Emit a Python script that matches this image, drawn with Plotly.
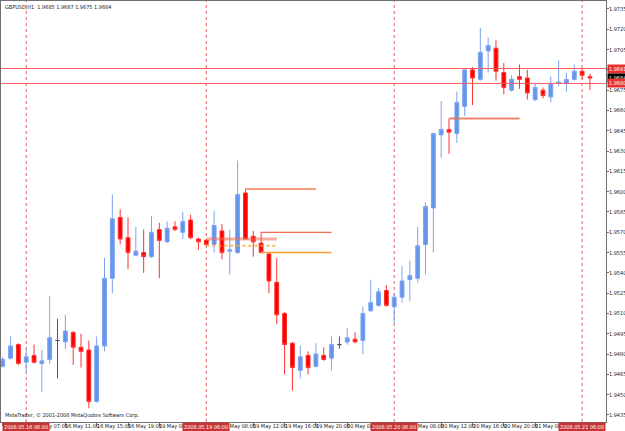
import plotly.graph_objects as go

# ---------------- data (GBPUSD, H1) ----------------
open_ = [1.9471, 1.9477, 1.9487, 1.9474, 1.9479, 1.9473, 1.9476, 1.9490, 1.9489, 1.9496,
         1.9485, 1.9483, 1.9445, 1.9486, 1.9536, 1.9581, 1.9566, 1.9553, 1.9555, 1.9552,
         1.9572, 1.9563, 1.9574, 1.9570, 1.9579, 1.9565, 1.9564, 1.9561, 1.9571, 1.9556,
         1.9555, 1.9599, 1.9567, 1.9562, 1.9554, 1.9533, 1.9510, 1.9488, 1.9468, 1.9479,
         1.9471, 1.9479, 1.9477, 1.9487, 1.9489, 1.9491, 1.9490, 1.9512, 1.9516, 1.9527,
         1.9515, 1.9522, 1.9535, 1.9536, 1.9561, 1.9588, 1.9642, 1.9646, 1.9643, 1.9663,
         1.9690, 1.9683, 1.9704, 1.9706, 1.9688, 1.9675, 1.9685, 1.9684, 1.9668, 1.9675,
         1.9670, 1.9680, 1.9680, 1.9683, 1.9689, 1.9685]
high = [1.9478, 1.9493, 1.9488, 1.9484, 1.9487, 1.9483, 1.9523, 1.9506, 1.9509, 1.9497,
        1.9495, 1.9490, 1.9493, 1.9551, 1.9598, 1.9587, 1.9581, 1.9574, 1.9572, 1.9582,
        1.9577, 1.9578, 1.9578, 1.9585, 1.9583, 1.9566, 1.9565, 1.9586, 1.9576, 1.9572,
        1.9623, 1.9602, 1.9571, 1.9570, 1.9555, 1.9551, 1.9511, 1.9489, 1.9486, 1.9482,
        1.9488, 1.9485, 1.9493, 1.9493, 1.9499, 1.9496, 1.9515, 1.9535, 1.9529, 1.9531,
        1.9525, 1.9545, 1.9549, 1.9574, 1.9592, 1.9643, 1.9667, 1.9654, 1.9674, 1.9690,
        1.9692, 1.9721, 1.9714, 1.9712, 1.9695, 1.9686, 1.9694, 1.9690, 1.9680, 1.9677,
        1.9685, 1.9697, 1.9688, 1.9694, 1.9691, 1.9687]
low = [1.9470, 1.9476, 1.9472, 1.9466, 1.9473, 1.9452, 1.9473, 1.9462, 1.9484, 1.9472,
       1.9470, 1.9440, 1.9444, 1.9482, 1.9525, 1.9561, 1.9543, 1.9553, 1.9540, 1.9551,
       1.9536, 1.9562, 1.9571, 1.9565, 1.9565, 1.9557, 1.9560, 1.9555, 1.9550, 1.9539,
       1.9554, 1.9565, 1.9552, 1.9555, 1.9525, 1.9502, 1.9465, 1.9453, 1.9462, 1.9465,
       1.9470, 1.9475, 1.9468, 1.9484, 1.9487, 1.9488, 1.9480, 1.9511, 1.9515, 1.9515,
       1.9503, 1.9518, 1.9519, 1.9533, 1.9539, 1.9555, 1.9625, 1.9628, 1.9636, 1.9656,
       1.9664, 1.9682, 1.9688, 1.9682, 1.9672, 1.9674, 1.9676, 1.9668, 1.9667, 1.9669,
       1.9666, 1.9678, 1.9674, 1.9682, 1.9683, 1.9675]
close = [1.9476, 1.9486, 1.9473, 1.9478, 1.9474, 1.9475, 1.9492, 1.9490, 1.9497, 1.9485,
         1.9482, 1.9445, 1.9486, 1.9536, 1.9580, 1.9565, 1.9555, 1.9556, 1.9552, 1.9570,
         1.9564, 1.9573, 1.9572, 1.9578, 1.9566, 1.9563, 1.9561, 1.9575, 1.9555, 1.9557,
         1.9598, 1.9565, 1.9563, 1.9555, 1.9534, 1.9509, 1.9487, 1.9470, 1.9478, 1.9470,
         1.9480, 1.9476, 1.9487, 1.9487, 1.9492, 1.9489, 1.9510, 1.9518, 1.9526, 1.9516,
         1.9522, 1.9534, 1.9538, 1.9560, 1.9589, 1.9643, 1.9646, 1.9644, 1.9666, 1.9690,
         1.9684, 1.9703, 1.9708, 1.9689, 1.9677, 1.9683, 1.9683, 1.9673, 1.9677, 1.9671,
         1.9680, 1.9681, 1.9683, 1.9689, 1.9686, 1.9684]

# time axis labels (every 4 bars)
tick_idx = [0, 4, 8, 12, 16, 20, 28, 32, 36, 40, 44, 52, 56, 60, 64, 68]
tick_text = ["16 May 03:00", "16 May 07:00", "16 May 11:00", "16 May 15:00", "16 May 19:00",
             "19 May 00:00", "19 May 08:00", "19 May 12:00", "19 May 16:00", "19 May 20:00",
             "20 May 00:00", "20 May 08:00", "20 May 12:00", "20 May 16:00", "20 May 20:00",
             "21 May 00:00"]
# period separators (06:00 each day)
sep_idx = [3, 26, 50, 74]
sep_text = ["2008.05.16 06:00", "2008.05.19 06:00", "2008.05.20 06:00", "2008.05.21 06:00"]

# horizontal levels
hlines = [1.9691, 1.9680]
bid = 1.9684
# segment levels: (start index, end index, price)
seg_start = [31, 33, 26, 26, 33, 57]
seg_end = [40, 42, 35, 35, 42, 66]
seg_price = [1.9602, 1.9570, 1.9565, 1.9560, 1.9555, 1.9654]

y_ticks = [round(1.9435 + 0.0015 * k, 4) for k in range(21)]

# ---------------- figure ----------------
n = len(open_)
idx = list(range(n))
doji = [i for i in idx if open_[i] == close[i]]
main = [i for i in idx if open_[i] != close[i]]

FONT = "Liberation Sans Narrow, DejaVu Sans Condensed, Arial Narrow, sans-serif"
FS = 5.5
BLUE = "#6495ED"
RED = "#FF0000"
TXT = "#222222"

fig = go.Figure()
fig.add_trace(go.Candlestick(
    x=main, open=[open_[i] for i in main], high=[high[i] for i in main],
    low=[low[i] for i in main], close=[close[i] for i in main],
    increasing=dict(fillcolor=BLUE, line=dict(color="#7AA3EF", width=1)),
    decreasing=dict(fillcolor=RED, line=dict(color="#FF3030", width=1)),
    whiskerwidth=0, showlegend=False, hoverinfo="skip"))
fig.add_trace(go.Candlestick(
    x=doji, open=[open_[i] for i in doji], high=[high[i] for i in doji],
    low=[low[i] for i in doji], close=[close[i] for i in doji],
    increasing=dict(fillcolor="#555555", line=dict(color="#555555", width=1)),
    decreasing=dict(fillcolor="#555555", line=dict(color="#555555", width=1)),
    whiskerwidth=0, showlegend=False, hoverinfo="skip"))

shapes = []
for s in sep_idx:
    shapes.append(dict(type="line", xref="x", yref="paper", x0=s, x1=s, y0=0, y1=1,
                       line=dict(color="#E06464", width=1, dash="dot"), layer="below"))
for h in hlines:
    shapes.append(dict(type="line", xref="paper", yref="y", x0=0, x1=1, y0=h, y1=h,
                       line=dict(color="#FF5A5A", width=1)))
seg_colors = ["rgba(244,140,100,0.85)", "#F04020", "rgba(240,110,80,0.55)",
              "rgba(255,170,60,0.8)", "#FFA030", "rgba(240,110,80,0.85)"]
seg_widths = [2, 1, 3, 2, 1.5, 2]
seg_dash = ["solid", "solid", "solid", "dot", "solid", "solid"]
for a, b, p, c, w, d in zip(seg_start, seg_end, seg_price, seg_colors, seg_widths, seg_dash):
    shapes.append(dict(type="line", xref="x", yref="y", x0=a, x1=b, y0=p, y1=p,
                       line=dict(color=c, width=w, dash=d)))

ann = []
# price scale labels
for v in y_ticks:
    ann.append(dict(x=1, y=v, xref="paper", yref="y", text=f"{v:.4f}", showarrow=False,
                    xanchor="left", yanchor="middle", xshift=2, borderpad=0,
                    font=dict(family=FONT, size=FS, color=TXT)))
for i, t in zip(tick_idx, tick_text):
    ann.append(dict(x=i, y=0, xref="x", yref="paper", text=t, showarrow=False,
                    xanchor="left", yanchor="top", xshift=-1, yshift=0, borderpad=0,
                    font=dict(family=FONT, size=FS, color=TXT)))
for i, t in zip(sep_idx, sep_text):
    ann.append(dict(x=i, y=0, xref="x", yref="paper", text=t, showarrow=False,
                    xanchor="center", yanchor="top", yshift=0, bgcolor="#C83232",
                    borderpad=1, font=dict(family=FONT, size=FS, color="white")))
for p, bg in [(hlines[0], "#E83030"), (bid, "#000000"), (hlines[1], "#E83030")]:
    ann.append(dict(x=1, y=p, xref="paper", yref="y", text=f"{p:.4f}", showarrow=False,
                    xanchor="left", yanchor="middle", xshift=1, bgcolor=bg, borderpad=1,
                    font=dict(family=FONT, size=FS, color="white")))
ann.append(dict(x=0, y=1, xref="paper", yref="paper", xanchor="left", yanchor="top",
                xshift=2, yshift=-1, showarrow=False,
                text=f"GBPUSD,H1  {open_[-1]:.4f} {high[-1]:.4f} {low[-1]:.4f} {close[-1]:.4f}",
                font=dict(family=FONT, size=FS, color=TXT)))
ann.append(dict(x=0, y=0, xref="paper", yref="paper", xanchor="left", yanchor="bottom",
                xshift=2, yshift=1, showarrow=False,
                text="MetaTrader, © 2001-2008 MetaQuotes Software Corp.",
                font=dict(family=FONT, size=FS, color=TXT)))

fig.update_layout(
    width=625, height=431, margin=dict(l=1, r=19, t=1, b=9),
    paper_bgcolor="white", plot_bgcolor="white", showlegend=False,
    boxgap=0.3, shapes=shapes, annotations=ann,
    font=dict(family=FONT, size=FS, color=TXT),
    xaxis=dict(range=[-0.22, 77.05], rangeslider=dict(visible=False), showgrid=False,
               zeroline=False, showline=True, linecolor="#707070", linewidth=1, mirror=True,
               tickmode="array", tickvals=tick_idx + sep_idx,
               ticktext=[""] * (len(tick_idx) + len(sep_idx)),
               ticks="outside", ticklen=3, tickcolor="#707070", showticklabels=False,
               fixedrange=True),
    yaxis=dict(side="right", range=[1.94298, 1.97409], showgrid=False, zeroline=False,
               showline=True, linecolor="#707070", linewidth=1, mirror=True,
               tickmode="array", tickvals=y_ticks, ticktext=[""] * len(y_ticks),
               showticklabels=False,
               ticks="outside", ticklen=2, tickcolor="#707070", automargin=False),
)

fig.write_html("out.html")
